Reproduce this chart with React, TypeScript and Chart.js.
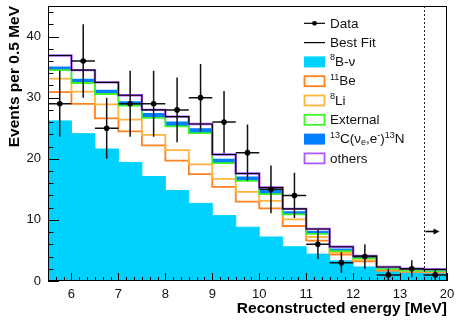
import React, { useEffect, useRef } from 'react';
import { Chart, registerables } from 'chart.js';
Chart.register(...registerables);

// Bin edges as drawn on the axis (last bin, 13.5–20 MeV, is drawn compressed to one 0.5 slot)
const binEdges = [5.5, 6, 6.5, 7, 7.5, 8, 8.5, 9, 9.5, 10, 10.5, 11, 11.5, 12, 12.5, 13, 13.5, 14];

// Observed data (events per bin) and their error bars
const dataCounts = [29, 36, 25, 29, 29, 28, 30, 26, 21, 15, 14, 6, 3, 4, 1, 2, 1];
const dataErrors = [5.4, 6.0, 5.0, 5.4, 5.4, 5.3, 5.5, 5.1, 4.6, 3.9, 3.7, 2.4, 1.7, 2.0, 1.0, 1.4, 1.0];

// Fit components (stacked in this order)
const b8 = [26.2, 24.1, 21.6, 19.4, 17.1, 14.8, 12.7, 10.7, 8.8, 7.2, 5.6, 4.4, 3.3, 2.3, 1.5, 1.3, 1.2];
const be11 = [4.7, 4.9, 5.0, 5.1, 5.1, 4.9, 4.8, 4.7, 4.2, 4.7, 3.4, 2.2, 1.0, 0.9, 0.2, 0.2, 0.2];
const li8 = [2.2, 2.0, 2.3, 1.9, 1.7, 1.7, 1.6, 1.3, 1.6, 1.2, 1.1, 0.6, 0.3, 0.2, 0.2, 0.1, 0.1];
const external = [1.4, 1.4, 1.7, 2.3, 2.8, 3.9, 5.1, 2.6, 1.8, 1.1, 0.8, 0.5, 0.3, 0.3, 0.1, 0.1, 0.1];
const c13 = [0.5, 0.6, 0.6, 0.6, 0.7, 0.7, 0.7, 0.6, 0.6, 0.6, 0.4, 0.4, 0.3, 0.2, 0.1, 0.1, 0.1];
const others = [1.9, 1.5, 1.3, 1.1, 0.6, 0.9, 0.8, 0.8, 0.6, 0.5, 0.5, 0.4, 0.4, 0.2, 0.2, 0.2, 0.2];

// Axis ticks
const xTickValues = [6, 7, 8, 9, 10, 11, 12, 13, 14];
const xTickLabels = ['6', '7', '8', '9', '10', '11', '12', '13', '20'];
const yTickValues = [0, 10, 20, 30, 40];

// Annotation: selection threshold and arrow
const thresholdEnergy = 13.5;
const arrowLevel = 8.1;
const arrowEnd = 13.84;

const CYAN = 'rgb(0,210,255)';
const ORANGE = 'rgb(255,128,30)';
const LIGHT = 'rgb(255,180,60)';
const GREEN = 'rgb(60,245,40)';
const BLUE = 'rgb(0,128,255)';
const PURPLE = 'rgb(170,90,255)';
const FONT = '"Liberation Sans", Arial, Helvetica, sans-serif';

type Run = { t: string; s?: 'sup' | 'sub' };
const legendItems: { kind: string; color: string; runs: Run[] }[] = [
  { kind: 'data', color: '#000', runs: [{ t: 'Data' }] },
  { kind: 'line', color: '#000', runs: [{ t: 'Best Fit' }] },
  { kind: 'fill', color: CYAN, runs: [{ t: '8', s: 'sup' }, { t: 'B-ν' }] },
  { kind: 'box', color: ORANGE, runs: [{ t: '11', s: 'sup' }, { t: 'Be' }] },
  { kind: 'box', color: LIGHT, runs: [{ t: '8', s: 'sup' }, { t: 'Li' }] },
  { kind: 'box', color: GREEN, runs: [{ t: 'External' }] },
  {
    kind: 'fill', color: BLUE,
    runs: [{ t: '13', s: 'sup' }, { t: 'C(ν' }, { t: 'e', s: 'sub' }, { t: ',e' }, { t: '-', s: 'sup' }, { t: ')' }, { t: '13', s: 'sup' }, { t: 'N' }],
  },
  { kind: 'box', color: PURPLE, runs: [{ t: 'others' }] },
];

function cumulate(...arrs: number[][]) {
  return arrs[0].map((_, i) => arrs.reduce((s, a) => s + a[i], 0));
}
function stepPoints(vals: number[]) {
  return binEdges.map((x, i) => ({ x, y: vals[Math.min(i, vals.length - 1)] }));
}

const rootPlugin = {
  id: 'rootStyle',
  afterDraw(chart: any) {
    const ctx = chart.ctx;
    const xs = chart.scales.x;
    const ys = chart.scales.y;
    const { left, right, top, bottom } = chart.chartArea;
    ctx.save();

    // error bars
    ctx.strokeStyle = '#111';
    ctx.lineWidth = 1.5;
    dataCounts.forEach((d, i) => {
      const x1 = xs.getPixelForValue(binEdges[i]);
      const x2 = xs.getPixelForValue(binEdges[i + 1]);
      const xc = (x1 + x2) / 2;
      const y = ys.getPixelForValue(d);
      const yl = Math.min(bottom, ys.getPixelForValue(d - dataErrors[i]));
      const yh = ys.getPixelForValue(d + dataErrors[i]);
      ctx.beginPath();
      ctx.moveTo(x1, y);
      ctx.lineTo(x2, y);
      ctx.moveTo(xc, yl);
      ctx.lineTo(xc, yh);
      ctx.stroke();
      ctx.beginPath();
      ctx.fillStyle = '#000';
      ctx.arc(xc, y, 2.8, 0, Math.PI * 2);
      ctx.fill();
    });

    // threshold dotted line
    const xt = Math.round(xs.getPixelForValue(thresholdEnergy)) + 0.5;
    ctx.strokeStyle = '#222';
    ctx.lineWidth = 1;
    ctx.setLineDash([2, 2]);
    ctx.beginPath();
    ctx.moveTo(xt, top);
    ctx.lineTo(xt, bottom);
    ctx.stroke();
    ctx.setLineDash([]);

    // arrow
    const ya = ys.getPixelForValue(arrowLevel);
    const xe = xs.getPixelForValue(arrowEnd);
    ctx.strokeStyle = '#000';
    ctx.lineWidth = 1.6;
    ctx.beginPath();
    ctx.moveTo(xt + 1, ya);
    ctx.lineTo(xe - 4, ya);
    ctx.stroke();
    ctx.fillStyle = '#000';
    ctx.beginPath();
    ctx.moveTo(xe, ya);
    ctx.lineTo(xe - 6, ya - 3);
    ctx.lineTo(xe - 6, ya + 3);
    ctx.closePath();
    ctx.fill();

    // frame
    ctx.strokeStyle = '#000';
    ctx.lineWidth = 1;
    ctx.strokeRect(Math.round(left) + 0.5, Math.round(top) + 0.5, Math.round(right - left) - 1, Math.round(bottom - top) - 1);

    // y ticks (inside)
    ctx.beginPath();
    for (let v = 0; v < ys.max; v += 2) {
      const y = Math.round(ys.getPixelForValue(v)) + 0.5;
      const len = v % 10 === 0 ? 11 : 5.5;
      ctx.moveTo(left, y);
      ctx.lineTo(left + len, y);
    }
    // x ticks (inside)
    for (let k = 0; ; k++) {
      const v = xs.min + k / 6;
      if (v > xs.max + 1e-6) break;
      const x = Math.round(xs.getPixelForValue(v)) + 0.5;
      const major = Math.abs(v - Math.round(v)) < 1e-6;
      const len = major ? 8 : 4;
      ctx.moveTo(x, bottom);
      ctx.lineTo(x, bottom - len);
    }
    ctx.stroke();

    // legend
    const lx0 = 304, lx1 = 325, tx = 330, ly0 = 23.3, dy = 19.3;
    ctx.textBaseline = 'middle';
    ctx.textAlign = 'left';
    legendItems.forEach((it, i) => {
      const yc = ly0 + i * dy;
      if (it.kind === 'data' || it.kind === 'line') {
        ctx.strokeStyle = '#000';
        ctx.lineWidth = 1.2;
        ctx.beginPath();
        ctx.moveTo(lx0, yc);
        ctx.lineTo(lx1, yc);
        ctx.stroke();
        if (it.kind === 'data') {
          ctx.fillStyle = '#000';
          ctx.beginPath();
          ctx.arc((lx0 + lx1) / 2, yc, 2.4, 0, Math.PI * 2);
          ctx.fill();
        }
      } else {
        if (it.kind === 'fill') {
          ctx.fillStyle = it.color;
          ctx.fillRect(lx0, yc - 5.5, lx1 - lx0, 11);
        } else {
          ctx.strokeStyle = it.color;
          ctx.lineWidth = 1.8;
          ctx.strokeRect(lx0 + 0.5, yc - 5, lx1 - lx0 - 1, 10);
        }
      }
      let x = tx;
      ctx.fillStyle = '#111';
      it.runs.forEach((r) => {
        if (r.s) {
          ctx.font = `9px ${FONT}`;
          const off = r.s === 'sup' ? -4 : 3;
          ctx.fillText(r.t, x, yc + off);
        } else {
          ctx.font = `13.5px ${FONT}`;
          ctx.fillText(r.t, x, yc + 0.5);
        }
        x += ctx.measureText(r.t).width;
      });
    });

    ctx.restore();
  },
};

export default function App() {
  const ref = useRef<HTMLCanvasElement | null>(null);
  useEffect(() => {
    const canvas = ref.current;
    if (!canvas) return;
    const cBe = cumulate(b8, be11);
    const cLi = cumulate(b8, be11, li8);
    const cExt = cumulate(b8, be11, li8, external);
    const cC13 = cumulate(b8, be11, li8, external, c13);
    const total = cumulate(b8, be11, li8, external, c13, others);
    const line = (vals: number[], color: string, width: number, extra: any = {}) => ({
      data: stepPoints(vals),
      stepped: 'before',
      borderColor: color,
      borderWidth: width,
      pointRadius: 0,
      fill: false,
      ...extra,
    });
    const chart = new Chart(canvas, {
      type: 'line',
      data: {
        datasets: [
          line(total, '#000', 1.1, { label: 'Best Fit' }),
          line(total, PURPLE, 2.4, { label: 'others' }),
          line(cExt, GREEN, 1.8, { label: 'External' }),
          line(cC13, BLUE, 1.2, { label: '13C', fill: { target: 2 }, backgroundColor: BLUE }),
          line(cLi, LIGHT, 1.8, { label: '8Li' }),
          line(cBe, ORANGE, 1.8, { label: '11Be' }),
          line(b8, CYAN, 1, { label: '8B', fill: 'origin', backgroundColor: CYAN }),
        ] as any,
      },
      options: {
        animation: false,
        responsive: false,
        events: [],
        layout: { padding: { left: 0, top: 6, right: 10, bottom: 0 } },
        plugins: { legend: { display: false }, tooltip: { enabled: false } },
        scales: {
          x: {
            type: 'linear',
            min: binEdges[0],
            max: binEdges[binEdges.length - 1],
            grid: { display: false, drawTicks: false },
            border: { display: false },
            afterBuildTicks: (s: any) => {
              s.ticks = xTickValues.map((v) => ({ value: v }));
            },
            afterFit: (s: any) => {
              s.height = 40;
              s.paddingLeft = 0;
              s.paddingRight = 0;
            },
            ticks: {
              autoSkip: false,
              maxRotation: 0,
              padding: 6,
              color: '#111',
              font: { size: 13, family: FONT },
              callback: (v: any) => {
                const i = xTickValues.indexOf(Number(v));
                return i >= 0 ? xTickLabels[i] : '';
              },
            },
            title: {
              display: true,
              text: 'Reconstructed energy [MeV]',
              align: 'end',
              color: '#000',
              font: { size: 15.5, weight: 'bold', family: FONT },
              padding: { top: 0, bottom: 3 },
            },
          },
          y: {
            min: 0,
            max: 45,
            grid: { display: false, drawTicks: false },
            border: { display: false },
            afterBuildTicks: (s: any) => {
              s.ticks = yTickValues.map((v) => ({ value: v }));
            },
            afterFit: (s: any) => {
              s.width = 48;
              s.paddingTop = 0;
              s.paddingBottom = 0;
            },
            ticks: {
              padding: 7,
              color: '#111',
              font: { size: 13, family: FONT },
            },
            title: {
              display: true,
              text: 'Events per 0.5 MeV',
              align: 'end',
              color: '#000',
              font: { size: 15.5, weight: 'bold', family: FONT },
              padding: { top: 5, bottom: 0 },
            },
          },
        },
      } as any,
      plugins: [rootPlugin],
    });
    return () => chart.destroy();
  }, []);
  return (
    <div style={{ position: 'fixed', left: 0, top: 0, width: 457, height: 321, background: '#fff' }}>
      <canvas ref={ref} width={457} height={321} style={{ display: 'block' }} />
    </div>
  );
}
